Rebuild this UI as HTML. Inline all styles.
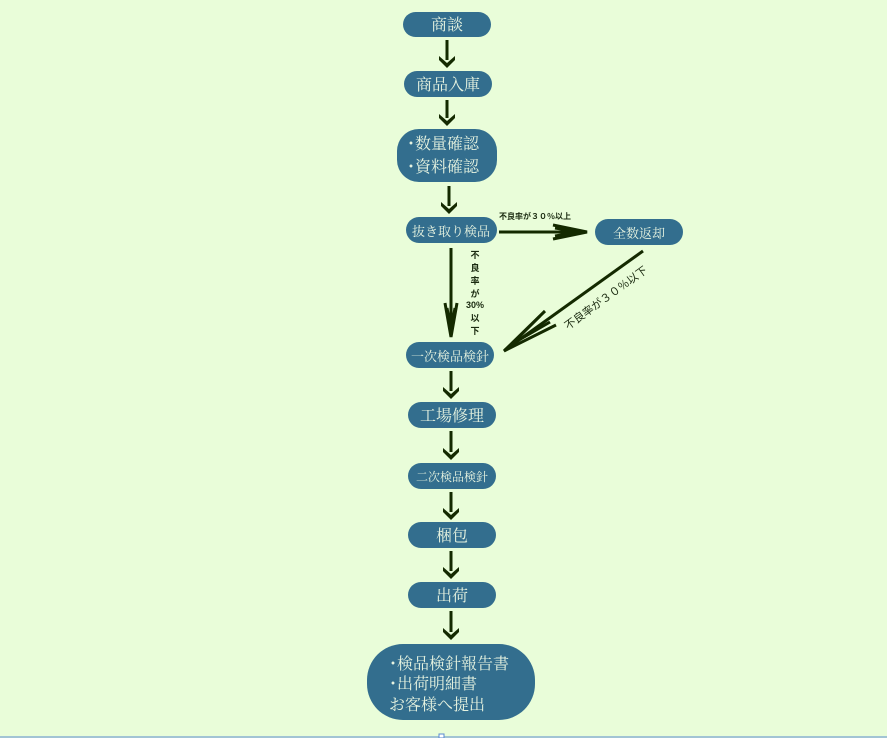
<!DOCTYPE html>
<html><head><meta charset="utf-8"><style>
html,body{margin:0;padding:0;background:#e9fdd9;}
svg{display:block}
text{font-family:"Liberation Serif","Noto Serif CJK SC","Noto Sans CJK JP",serif;fill:#e6f3e0;}
.s{font-family:"Liberation Sans","Noto Sans CJK JP",sans-serif;fill:#1a2a10;}
</style></head><body>
<svg width="887" height="738" viewBox="0 0 887 738" xmlns="http://www.w3.org/2000/svg">
<rect width="887" height="738" fill="#e9fdd9"/>
<g fill="#336e8e">
<rect x="403" y="12" width="88" height="25" rx="12.5"/>
<rect x="404" y="71" width="88" height="26" rx="13"/>
<rect x="397" y="129" width="100" height="53" rx="22"/>
<rect x="406" y="217" width="91" height="26" rx="13"/>
<rect x="595" y="219" width="88" height="26" rx="13"/>
<rect x="406" y="342" width="88" height="26" rx="13"/>
<rect x="408" y="402" width="88" height="26" rx="13"/>
<rect x="408" y="463" width="88" height="26" rx="13"/>
<rect x="408" y="522" width="88" height="26" rx="13"/>
<rect x="408" y="582" width="88" height="26" rx="13"/>
<rect x="367" y="644" width="168" height="76" rx="36"/>
</g>
<g text-anchor="middle">
<text x="447" y="30" font-size="16">商談</text>
<text x="448" y="90" font-size="16">商品入庫</text>
<text x="451" y="236" font-size="13">抜き取り検品</text>
<text x="639" y="238" font-size="13">全数返却</text>
<text x="450" y="361" font-size="13">一次検品検針</text>
<text x="452" y="421" font-size="16">工場修理</text>
<text x="452" y="481" font-size="12">二次検品検針</text>
<text x="452" y="541" font-size="16">梱包</text>
<text x="452" y="601" font-size="16">出荷</text>
</g>
<text x="407" y="149" font-size="16">･数量確認</text>
<text x="407" y="172" font-size="16">･資料確認</text>
<text x="389" y="669" font-size="16">･検品検針報告書</text>
<text x="389" y="689" font-size="16">･出荷明細書</text>
<text x="389" y="710" font-size="16">お客様へ提出</text>
<g stroke="#142a00" stroke-width="3" fill="none">
<line x1="447" y1="40" x2="447" y2="60"/>
<line x1="447" y1="100" x2="447" y2="118"/>
<line x1="449" y1="186" x2="449" y2="206"/>
<line x1="451" y1="371" x2="451" y2="391"/>
<line x1="451" y1="431" x2="451" y2="452"/>
<line x1="451" y1="492" x2="451" y2="512"/>
<line x1="451" y1="551" x2="451" y2="571"/>
<line x1="451" y1="611" x2="451" y2="632"/>
</g>
<g fill="#142a00">
<path d="M439,56 L447,63 L455,56 L455,60 L447,68 L439,60z"/>
<path d="M439,114 L447,121 L455,114 L455,118 L447,126 L439,118z"/>
<path d="M441,202 L449,209 L457,202 L457,206 L449,214 L441,206z"/>
<path d="M443,387 L451,394 L459,387 L459,391 L451,399 L443,391z"/>
<path d="M443,448 L451,455 L459,448 L459,452 L451,460 L443,452z"/>
<path d="M443,508 L451,515 L459,508 L459,512 L451,520 L443,512z"/>
<path d="M443,567 L451,574 L459,567 L459,571 L451,579 L443,571z"/>
<path d="M443,628 L451,635 L459,628 L459,632 L451,640 L443,632z"/>
</g>
<g stroke="#142a00" stroke-width="3" fill="none">
<line x1="499" y1="232" x2="585" y2="232"/>
<polyline points="553,225 587,232 553,239"/>
<polyline points="555,228 580,232 555,236"/>
<line x1="451" y1="248" x2="451" y2="334"/>
<polyline points="445,303 451,337 457,303"/>
<polyline points="447,308 451,330 455,308"/>
<line x1="643" y1="251" x2="505" y2="350"/>
<polyline points="545,311 504,351 556,325"/>
<polyline points="540,316 512,344 550,322"/>
</g>
<text class="s" x="499" y="219" font-size="8" font-weight="bold">不良率が３０％以上</text>
<g font-size="9" text-anchor="middle" font-weight="bold">
<text class="s" x="475" y="258">不</text>
<text class="s" x="475" y="271">良</text>
<text class="s" x="475" y="284">率</text>
<text class="s" x="475" y="297">が</text>
<text class="s" x="475" y="308">30%</text>
<text class="s" x="475" y="321">以</text>
<text class="s" x="475" y="334">下</text>
</g>
<text class="s" x="568" y="330" font-size="11" transform="rotate(-36 568 330)">不良率が３０％以下</text>
<line x1="0" y1="737" x2="887" y2="737" stroke="#5a8ad0" stroke-width="1"/>
<rect x="439" y="734" width="5" height="4" fill="#fff" stroke="#5a8ad0" stroke-width="1"/>
</svg>
</body></html>
